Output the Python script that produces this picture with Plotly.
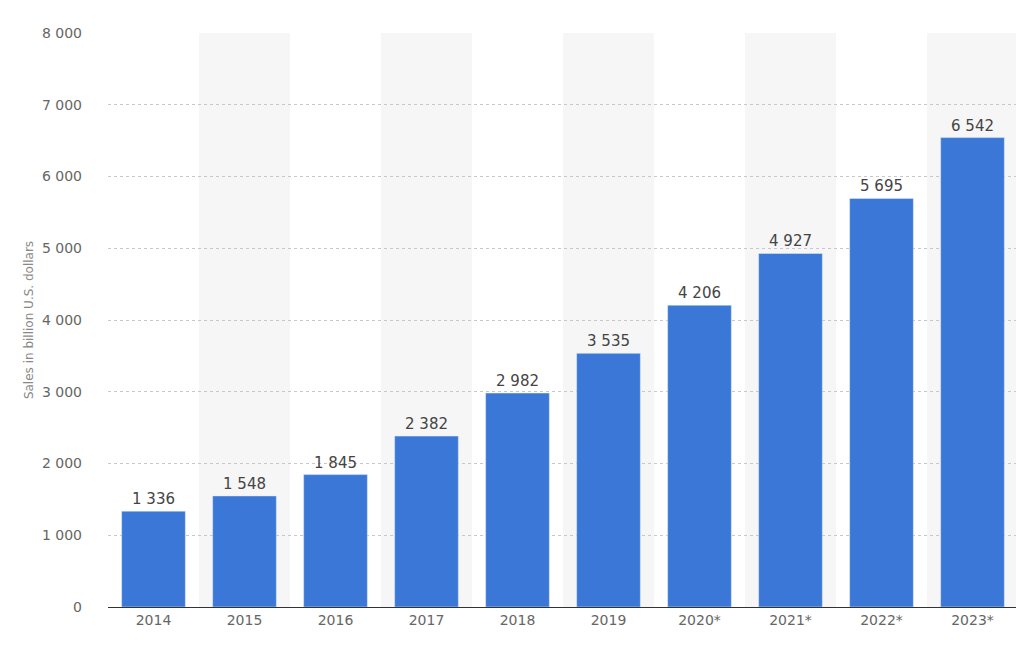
import plotly.graph_objects as go

years = ["2014", "2015", "2016", "2017", "2018", "2019", "2020*", "2021*", "2022*", "2023*"]
sales = [1336, 1548, 1845, 2382, 2982, 3535, 4206, 4927, 5695, 6542]
y_ticks = [0, 1000, 2000, 3000, 4000, 5000, 6000, 7000, 8000]
y_tick_labels = ["0", "1 000", "2 000", "3 000", "4 000", "5 000", "6 000", "7 000", "8 000"]


def fmt(v):
    return f"{v:,}".replace(",", " ")


fig = go.Figure()
fig.add_trace(
    go.Bar(
        x=years,
        y=sales,
        marker=dict(color="#3b77d6"),
        width=0.7,
        text=[fmt(v) for v in sales],
        textposition="outside",
        textfont=dict(family="DejaVu Sans", size=15, color="#444444"),
        cliponaxis=False,
    )
)

# alternate shaded columns
for i in range(1, len(years), 2):
    fig.add_vrect(x0=i - 0.5, x1=i + 0.5, fillcolor="#f6f6f6", line_width=0, layer="below")

fig.update_layout(
    width=1024,
    height=649,
    margin=dict(l=100, r=14, t=25, b=50),
    plot_bgcolor="white",
    paper_bgcolor="white",
    showlegend=False,
    bargap=0.3,
    font=dict(family="DejaVu Sans", color="#666666", size=14),
)
fig.update_xaxes(
    showline=True,
    linecolor="#333333",
    linewidth=1,
    showgrid=False,
    tickfont=dict(size=14, color="#666666"),
)
fig.update_yaxes(
    range=[0, 8000],
    tickvals=y_ticks,
    ticktext=y_tick_labels,
    showgrid=True,
    gridcolor="#c8c8c8",
    griddash="dot",
    zeroline=False,
    ticks="",
    ticklabelstandoff=25,
    title=dict(text="Sales in billion U.S. dollars", font=dict(size=12, color="#888888"), standoff=5),
)

fig.write_html("out.html")
